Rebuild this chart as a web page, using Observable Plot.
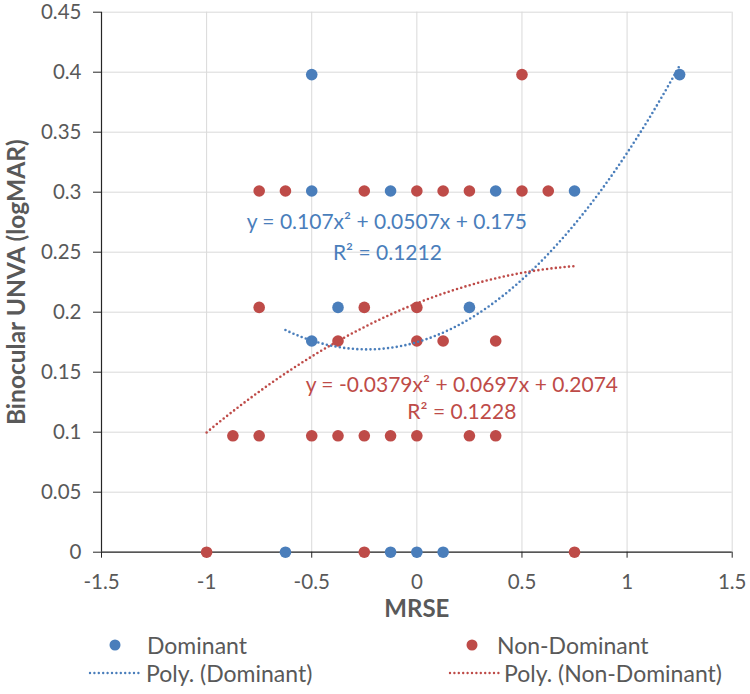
<!DOCTYPE html>
<html>
<head>
<meta charset="utf-8">
<script src="https://cdn.jsdelivr.net/npm/d3@7"></script>
<script src="https://cdn.jsdelivr.net/npm/@observablehq/plot@0.6"></script>
<style>
  body { margin: 0; background: white; }
  #wrap { width: 750px; font-family: Lato, "Open Sans", sans-serif; }
  #legend { position: relative; width: 750px; height: 62px; font-size: 23px; color: #595959; }
  #legend .t { position: absolute; line-height: 1; transform: translateY(-50%); white-space: nowrap; }
  #legend .d { position: absolute; width: 11px; height: 11px; border-radius: 50%; transform: translate(-50%, -50%); }
  #legend svg { position: absolute; overflow: visible; }
</style>
</head>
<body>
<div id="wrap">
  <div id="chart"></div>
  <div id="legend">
    <div class="d" style="left:115px;top:13px;background:#4A7EBB"></div>
    <div class="t" style="left:147px;top:13px">Dominant</div>
    <div class="d" style="left:472px;top:13px;background:#BE4B48"></div>
    <div class="t" style="left:497px;top:13px">Non-Dominant</div>
    <svg style="left:89px;top:40px" width="52" height="2"><line x1="1" y1="1" x2="51" y2="1" stroke="#4A7EBB" stroke-width="2.4" stroke-linecap="round" stroke-dasharray="0 4.4"/></svg>
    <div class="t" style="left:146px;top:41px">Poly. (Dominant)</div>
    <svg style="left:449px;top:40px" width="52" height="2"><line x1="1" y1="1" x2="51" y2="1" stroke="#BE4B48" stroke-width="2.4" stroke-linecap="round" stroke-dasharray="0 4.4"/></svg>
    <div class="t" style="left:504px;top:41px">Poly. (Non-Dominant)</div>
  </div>
</div>
<script>
// Tick labels
const xTicks = [-1.5, -1, -0.5, 0, 0.5, 1, 1.5];
const yTicks = [0, 0.05, 0.1, 0.15, 0.2, 0.25, 0.3, 0.35, 0.4, 0.45];

// Dominant series (MRSE, Binocular UNVA logMAR)
const domX = [-0.5, 1.25, -0.5, -0.125, 0.375, 0.75, -0.375, 0.25, -0.5, -0.625, -0.125, 0, 0.125];
const domY = [0.398, 0.398, 0.301, 0.301, 0.301, 0.301, 0.204, 0.204, 0.176, 0, 0, 0, 0];

// Non-Dominant series
const nonX = [0.5,
  -0.75, -0.625, -0.25, 0, 0.125, 0.25, 0.5, 0.625,
  -0.75, -0.25, 0,
  -0.375, 0, 0.125, 0.375,
  -0.875, -0.75, -0.5, -0.375, -0.25, -0.125, 0, 0.25, 0.375,
  -1, -0.25, 0.75];
const nonY = [0.398,
  0.301, 0.301, 0.301, 0.301, 0.301, 0.301, 0.301, 0.301,
  0.204, 0.204, 0.204,
  0.176, 0.176, 0.176, 0.176,
  0.097, 0.097, 0.097, 0.097, 0.097, 0.097, 0.097, 0.097, 0.097,
  0, 0, 0];

// Polynomial trendlines (order 2) as reported on the chart: [a, b, c] for a x^2 + b x + c
const domCoef = [0.107, 0.0507, 0.175];
const nonCoef = [-0.0379, 0.0697, 0.2074];
const domRange = [-0.625, 1.25];
const nonRange = [-1, 0.75];
const domEq = ["y = 0.107x² + 0.0507x + 0.175", "R² = 0.1212"];
const nonEq = ["y = -0.0379x² + 0.0697x + 0.2074", "R² = 0.1228"];

const BLUE = "#4A7EBB", RED = "#BE4B48";

const dom = domX.map((x, i) => ({x, y: domY[i]}));
const non = nonX.map((x, i) => ({x, y: nonY[i]}));
function curve(coef, range) {
  const n = 120, out = [];
  for (let i = 0; i <= n; i++) {
    const x = range[0] + (range[1] - range[0]) * i / n;
    out.push({x, y: coef[0] * x * x + coef[1] * x + coef[2]});
  }
  return out;
}
const domFit = curve(domCoef, domRange);
const nonFit = curve(nonCoef, nonRange);

const chart = Plot.plot({
  width: 750,
  height: 632,
  marginLeft: 101,
  marginRight: 18.3,
  marginTop: 11.7,
  marginBottom: 80.3,
  style: {fontFamily: "Lato, 'Open Sans', sans-serif", color: "#595959", background: "white", overflow: "visible"},
  x: {domain: [-1.5, 1.5]},
  y: {domain: [0, 0.45]},
  marks: [
    Plot.gridX(xTicks, {stroke: "#d9d9d9", strokeOpacity: 1, strokeWidth: 1}),
    Plot.gridY(yTicks, {stroke: "#d9d9d9", strokeOpacity: 1, strokeWidth: 1}),
    Plot.axisY(yTicks, {tickSize: 8, tickPadding: 12, fontSize: 20.5, label: null, stroke: "#262626", tickFormat: d => String(d)}),
    Plot.axisX(xTicks, {tickSize: 6, tickPadding: 16, fontSize: 20.5, label: null, stroke: "#262626", tickFormat: d => String(d)}),
    Plot.ruleX([-1.5], {stroke: "#262626", strokeWidth: 1.2}),
    Plot.ruleY([0], {stroke: "#262626", strokeWidth: 1.2}),
    Plot.dot(dom, {x: "x", y: "y", r: 5.8, fill: BLUE, stroke: "none"}),
    Plot.dot(non, {x: "x", y: "y", r: 5.8, fill: RED, stroke: "none"}),
    Plot.line(domFit, {x: "x", y: "y", stroke: BLUE, strokeWidth: 2.6, strokeDasharray: "0 4.4", strokeLinecap: "round"}),
    Plot.line(nonFit, {x: "x", y: "y", stroke: RED, strokeWidth: 2.6, strokeDasharray: "0 4.4", strokeLinecap: "round"}),
    Plot.text([domEq[0]], {x: -0.143, y: 0.2748, text: d => d, fill: BLUE, fontSize: 21}),
    Plot.text([domEq[1]], {x: -0.14, y: 0.249, text: d => d, fill: BLUE, fontSize: 21}),
    Plot.text([nonEq[0]], {x: 0.214, y: 0.139, text: d => d, fill: RED, fontSize: 21}),
    Plot.text([nonEq[1]], {x: 0.214, y: 0.1165, text: d => d, fill: RED, fontSize: 21}),
    Plot.text(["MRSE"], {frameAnchor: "bottom", dy: 65, text: d => d, fontSize: 24, fontWeight: "bold", fill: "#595959"}),
    Plot.text(["Binocular UNVA (logMAR)"], {frameAnchor: "left", textAnchor: "middle", dx: -84, rotate: -90, text: d => d, fontSize: 24.5, fontWeight: "bold", fill: "#595959"})
  ]
});
document.getElementById("chart").appendChild(chart);
</script>
</body>
</html>
